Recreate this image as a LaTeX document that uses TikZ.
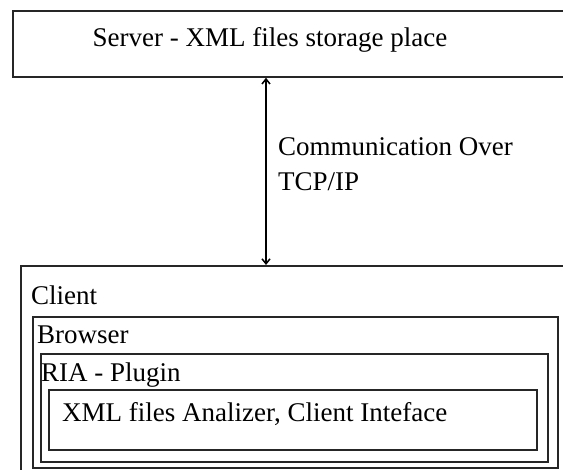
\documentclass[tikz,border=0pt]{standalone}
\usepackage{fontspec}
\setmainfont{Liberation Serif}
\usetikzlibrary{arrows.meta}
\tikzset{
  boxline/.style={draw=black!85, line width=1.8pt, rectangle, inner sep=0pt, anchor=north west},
  lbl/.style={inner sep=0pt, anchor=base west, font=\fontsize{27}{30}\selectfont},
  conn/.style={line width=1.5pt, {Straight Barb[length=5pt,width=8pt]}-{Straight Barb[length=5pt,width=8pt]}}
}
\begin{document}
\begin{tikzpicture}[x=1pt,y=-1pt]
\useasboundingbox (0,0) rectangle (563,470);
\fill[white] (0,0) rectangle (563,470);
% server
\node[boxline, minimum width=580pt, minimum height=66pt] (server) at (12,10) {};
\node[lbl, anchor=base] (servertxt) at (270,47) {Server - XML files storage place};
% client
\node[boxline, minimum width=580pt, minimum height=230pt] (client) at (20,265) {};
\node[lbl] (clienttxt) at (31,305) {Client};
\node[boxline, minimum width=525pt, minimum height=151pt] (browser) at (32,316) {};
\node[lbl] (browsertxt) at (37,344) {Browser};
\node[boxline, minimum width=507pt, minimum height=108pt] (ria) at (40,353) {};
\node[lbl] (riatxt) at (41,382) {RIA - Plugin};
\node[boxline, minimum width=488pt, minimum height=60pt] (inner) at (48,389) {};
\node[lbl] (innertxt) at (62,422) {XML files Analizer, Client Inteface};
% connector
\coordinate (ax) at (266,0);
\draw[conn] (ax |- server.south) -- (ax |- client.north);
\node[lbl, align=left, anchor=north west, font=\fontsize{27}{35}\selectfont] (comm) at (278,137) {Communication Over\\TCP/IP};
\end{tikzpicture}
\end{document}
